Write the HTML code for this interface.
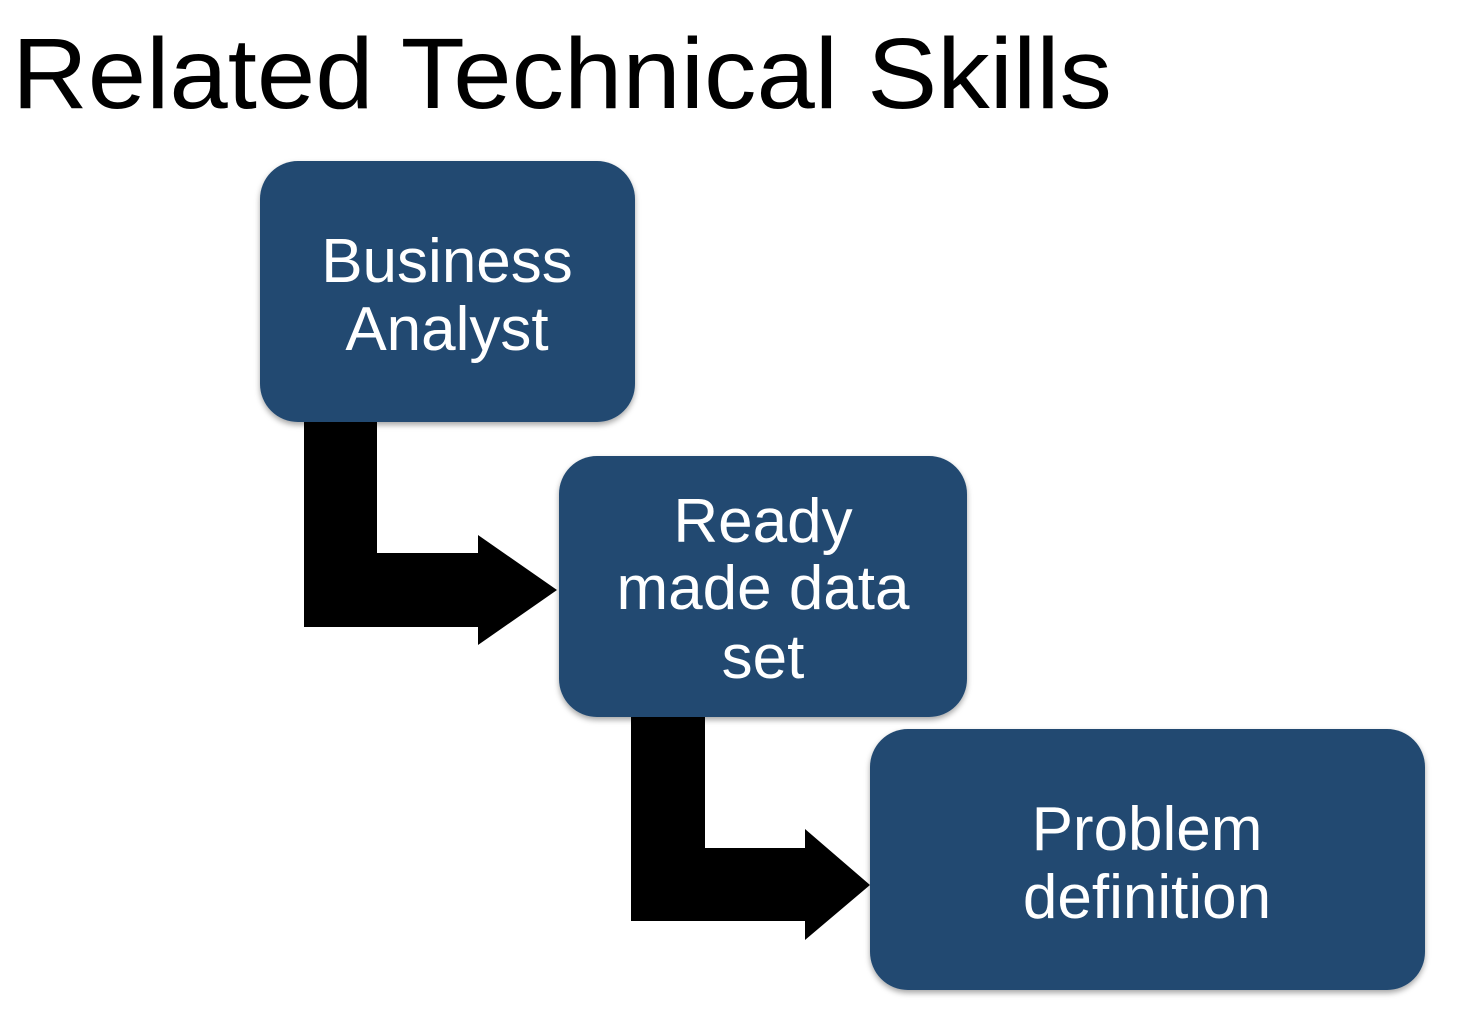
<!DOCTYPE html>
<html><head><meta charset="utf-8"><style>
html,body{margin:0;padding:0;background:#fff;width:1460px;height:1030px;overflow:hidden}
</style></head><body>
<svg width="1460" height="1030" viewBox="0 0 1460 1030" xmlns="http://www.w3.org/2000/svg" font-family="Liberation Sans, Arial, sans-serif">
<defs>
<filter id="sh" x="-10%" y="-10%" width="120%" height="125%">
<feDropShadow dx="0" dy="3" stdDeviation="3" flood-color="#000" flood-opacity="0.35"/>
</filter>
</defs>
<text x="12" y="108" font-size="100" fill="#000" textLength="1100" lengthAdjust="spacingAndGlyphs">Related Technical Skills</text>

<!-- arrows -->
<path d="M304 422 H377 V553 H478 V535 L557 590 L478 645 V627 H304 Z" fill="#000"/>
<path d="M631 717 H705 V848 H805 V829 L870 885 L805 940 V921 H631 Z" fill="#000"/>

<!-- boxes -->
<rect x="260" y="161" width="375" height="261" rx="38" fill="#224a71" filter="url(#sh)"/>
<rect x="559" y="456" width="408" height="261" rx="38" fill="#224a71" filter="url(#sh)"/>
<rect x="870" y="729" width="555" height="261" rx="38" fill="#224a71" filter="url(#sh)"/>

<g fill="#fff" font-size="62" text-anchor="middle">
<text x="447" y="282">Business</text>
<text x="447" y="350">Analyst</text>
<text x="763" y="542">Ready</text>
<text x="763" y="609">made data</text>
<text x="763" y="678">set</text>
<text x="1147" y="850">Problem</text>
<text x="1147" y="918">definition</text>
</g>
</svg>
</body></html>
